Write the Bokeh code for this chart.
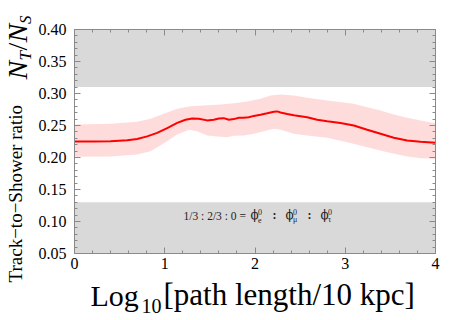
import numpy as np
from bokeh.plotting import figure
from bokeh.models import Range1d, FixedTicker, LinearAxis, Label
from bokeh.embed import file_html
from bokeh.resources import INLINE

# ---------------- data ----------------
x_ticks = [0, 1, 2, 3, 4]
y_ticks = [0.05, 0.10, 0.15, 0.20, 0.25, 0.30, 0.35, 0.40]
y_tick_labels = ["0.05", "0.10", "0.15", "0.20", "0.25", "0.30", "0.35", "0.40"]

gray_band_bottom = [0.05, 0.31]
gray_band_top = [0.13, 0.40]

curve_x = [0.0, 0.214, 0.399, 0.584, 0.694, 0.805, 0.916, 1.027, 1.138, 1.230,
           1.304, 1.377, 1.470, 1.544, 1.599, 1.654, 1.710, 1.765, 1.821, 1.876,
           1.931, 1.987, 2.061, 2.135, 2.209, 2.246, 2.283, 2.357, 2.430, 2.504,
           2.578, 2.689, 2.800, 2.947, 3.095, 3.243, 3.391, 3.538, 3.686, 3.834, 4.0]
curve_y = [0.225, 0.225, 0.2255, 0.227, 0.229, 0.233, 0.2385, 0.246, 0.254, 0.259,
           0.261, 0.2605, 0.258, 0.259, 0.261, 0.2615, 0.259, 0.260, 0.262, 0.262,
           0.263, 0.265, 0.2667, 0.269, 0.2714, 0.272, 0.2703, 0.268, 0.266, 0.2645,
           0.263, 0.259, 0.2567, 0.254, 0.250, 0.2433, 0.237, 0.2308, 0.2266, 0.2245, 0.223]

band_up_x = [0.0, 0.399, 0.694, 0.842, 0.990, 1.138, 1.285, 1.433, 1.618, 1.765,
             1.913, 2.061, 2.172, 2.283, 2.430, 2.578, 2.800, 3.095, 3.243, 3.391,
             3.538, 3.686, 3.834, 4.0]
band_up_y = [0.2516, 0.2526, 0.2557, 0.2604, 0.2683, 0.2761, 0.2800, 0.2813, 0.2828, 0.2849,
             0.2875, 0.2917, 0.2969, 0.2984, 0.2969, 0.2932, 0.2890, 0.2839, 0.2786, 0.2734,
             0.2672, 0.2620, 0.2578, 0.2536]
band_lo_x = [0.0, 0.399, 0.694, 0.842, 0.990, 1.138, 1.267, 1.359, 1.470, 1.581,
             1.691, 1.765, 1.876, 1.987, 2.098, 2.209, 2.283, 2.430, 2.578, 2.800,
             3.021, 3.243, 3.465, 3.686, 3.834, 4.0]
band_lo_y = [0.2011, 0.2016, 0.2047, 0.2099, 0.2224, 0.2359, 0.2432, 0.2411, 0.2344, 0.2328,
             0.2318, 0.2339, 0.2344, 0.2370, 0.2411, 0.2448, 0.2432, 0.2370, 0.2344, 0.2308,
             0.2240, 0.2161, 0.2083, 0.2016, 0.1990, 0.1980]

# ---------------- layout ----------------
W, H = 460, 316
FX0, FX1 = 74, 435      # frame left / right (px)
FY0, FY1 = 29, 253      # frame top / bottom (px)
XMIN, XMAX = 0.0, 4.0
YMIN, YMAX = 0.05, 0.40
sx = (FX1 - FX0) / (XMAX - XMIN)
sy = (FY1 - FY0) / (YMAX - YMIN)

SERIF = "Liberation Serif"
p = figure(width=W, height=H, min_border=0,
           x_range=Range1d(XMIN - FX0 / sx, XMAX + (W - FX1) / sx),
           y_range=Range1d(YMIN - (H - FY1) / sy, YMAX + FY0 / sy),
           output_backend="svg", toolbar_location=None,
           x_axis_location=None, y_axis_location=None)
p.grid.visible = False
p.outline_line_color = None
p.background_fill_color = "white"
p.border_fill_color = "white"

# gray bands
p.quad(left=XMIN, right=XMAX, bottom=gray_band_bottom, top=gray_band_top,
       fill_color="#d9d9d9", line_color=None)

# pink uncertainty band
patch_x = band_up_x + band_lo_x[::-1]
patch_y = band_up_y + band_lo_y[::-1]
p.patch(patch_x, patch_y, fill_color="#ffdcdc", line_color=None)

# red line
p.line(curve_x, curve_y, line_color="#ff0000", line_width=2)

# ---------------- frame axes ----------------
x_minor = [round(v, 2) for v in np.arange(0, 4.0001, 0.2)]
y_minor = [round(v, 3) for v in np.arange(0.05, 0.40001, 0.01)]
AX_COLOR = "#8a8a8a"

def make_axis(side, loc, bounds, ticks, minor, labels, tick_len=6, minor_len=3):
    ax = LinearAxis(fixed_location=loc, bounds=bounds)
    ax.ticker = FixedTicker(ticks=ticks, minor_ticks=minor)
    ax.axis_line_color = AX_COLOR
    ax.major_tick_line_color = AX_COLOR
    ax.minor_tick_line_color = AX_COLOR
    ax.major_tick_in = tick_len
    ax.major_tick_out = 0
    ax.minor_tick_in = minor_len
    ax.minor_tick_out = 0
    if labels is not None:
        ax.major_label_overrides = labels
        ax.major_label_text_font = SERIF
        ax.major_label_text_font_size = "16px"
        ax.major_label_text_color = "black"
    p.add_layout(ax, side)
    return ax

ax_l = make_axis("left", XMIN, (YMIN, YMAX), y_ticks, y_minor,
                 {t: s for t, s in zip(y_ticks, y_tick_labels)})
ax_l.major_label_standoff = 8
ax_b = make_axis("below", YMIN, (XMIN, XMAX), x_ticks, x_minor,
                 {t: str(t) for t in x_ticks})
ax_b.major_label_standoff = 4
# right and top: ticks only (no labels)
make_axis("right", XMAX, (YMIN, YMAX), [], y_minor, None)
make_axis("right", XMAX, (YMIN, YMAX), [], y_ticks, None, minor_len=6)
make_axis("above", YMAX, (XMIN, XMAX), [], x_minor, None)
make_axis("above", YMAX, (XMIN, XMAX), [], x_ticks, None, minor_len=6)

# ---------------- texts ----------------
def X(px):
    return XMIN + (px - FX0) / sx

def Y(py):
    return YMIN + (FY1 - py) / sy

MID = 0.34  # distance baseline -> text middle, in em

def lab(px, base_py, text, size, style="normal", color="black", font=SERIF):
    # horizontal text, given left x and baseline y (px)
    p.add_layout(Label(x=X(px), y=Y(base_py - MID * size), text=text, text_font=font,
                       text_font_size=f"{size}px", text_font_style=style,
                       text_color=color, text_align="left", text_baseline="middle"))

def vlab(base_px, start_py, text, size, style="normal", color="black"):
    # text rotated 90deg (reading upwards), given baseline x and start y (px)
    p.add_layout(Label(x=X(base_px - MID * size), y=Y(start_py), text=text, text_font=SERIF,
                       text_font_size=f"{size}px", text_font_style=style,
                       text_color=color, angle=np.pi / 2,
                       text_align="left", text_baseline="middle"))

# x-axis title: Log_10[path length/10 kpc]
lab(90, 305, "Log", 30)
lab(141, 312, "10", 20)
lab(163, 305, "[path length/10 kpc]", 31)

# y-axis titles (rotated)
vlab(21, 282, "Track\u2212to\u2212Shower ratio", 19)
vlab(27, 79, "N", 28, style="italic")
vlab(31, 60, "T", 17, style="italic")
vlab(27, 50, "/", 28)
vlab(27, 42, "N", 28, style="italic")
vlab(31, 23.5, "S", 17, style="italic")

# annotation inside lower band
TXT = "#222222"
lab(183, 219, "1/3 : 2/3 : 0 =", 11.5, color=TXT)
phi_px = [250, 285, 320]
subs = ["e", "\u03bc", "\u03c4"]
for i, (x0, s) in enumerate(zip(phi_px, subs)):
    lab(x0, 219, "\u03d5", 12, color=TXT, font="DejaVu Serif")
    lab(x0 + 7.5, 214, "0", 8, color=TXT)
    lab(x0 + 7.5, 222, s, 8, color=TXT)
    if i < 2:
        lab(x0 + 22, 219, ":", 12, color=TXT, style="bold")

open("out.html", "w").write(file_html(p, INLINE))
